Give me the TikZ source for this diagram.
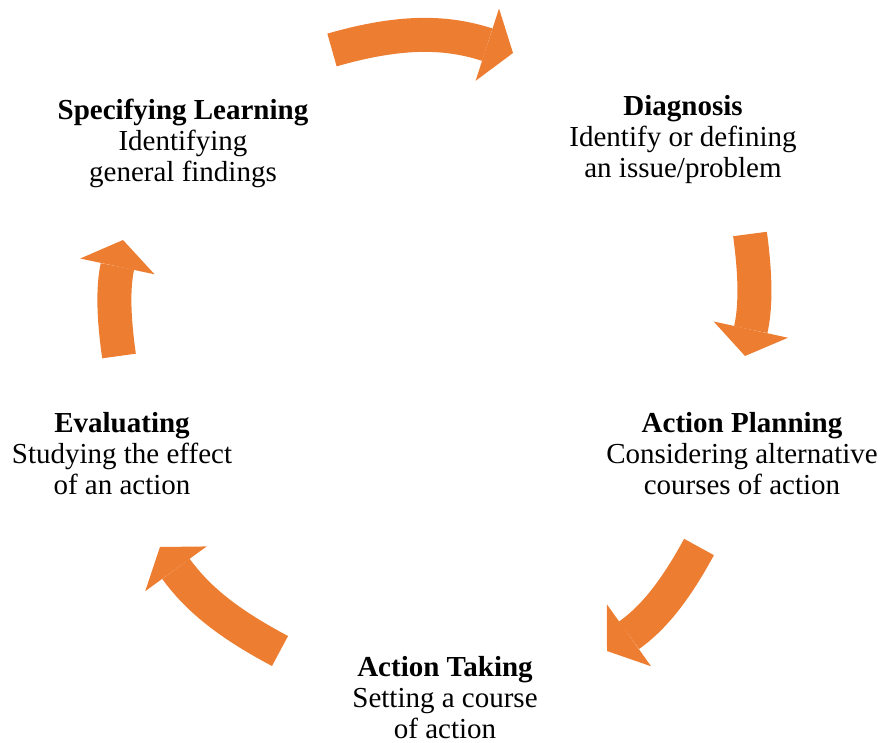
\documentclass[tikz,border=0pt]{standalone}
\usepackage{fontspec}
\setmainfont{Liberation Serif}
\usetikzlibrary{arrows.meta}
\definecolor{cycleorange}{RGB}{237,125,49}

\begin{document}
\begin{tikzpicture}[
		x=1pt, y=-1pt,
		every node/.style={align=center, inner sep=0pt, font=\fontsize{29}{31}\selectfont},
		cyclearrow/.style={draw=cycleorange, line width=34pt,
			-{Triangle[width=76pt, length=27pt, line width=0pt]}}
	]
  \useasboundingbox (0,0) rectangle (883,743);
  % the five stages
  \node (diag) at (683,140) {\textbf{Diagnosis}\\Identify or defining\\an issue/problem};
  \node (plan) at (742,454) {\textbf{Action Planning}\\Considering alternative\\courses of action};
  \node (take) at (445,698) {\textbf{Action Taking}\\Setting a course\\of action};
  \node (eval) at (122,454) {\textbf{Evaluating}\\Studying the effect\\of an action};
  \node (spec) at (183,143) {\textbf{Specifying Learning}\\Identifying\\general findings};
  % ends of the arrows
  \coordinate (a_0) at (332,50);
  \coordinate (a_1) at (513,53);
  \coordinate (b_0) at (750,234);
  \coordinate (b_1) at (745,356);
  \coordinate (c_0) at (699,547);
  \coordinate (c_1) at (607,651);
  \coordinate (d_0) at (280,651);
  \coordinate (d_1) at (160,547);
  \coordinate (e_0) at (119,356);
  \coordinate (e_1) at (123,240);
  \draw[cyclearrow] (a_0) to[bend left=17] (a_1);
  \draw[cyclearrow] (b_0) to[bend left=10] (b_1);
  \draw[cyclearrow] (c_0) to[bend left=13] (c_1);
  \draw[cyclearrow] (d_0) to[bend left=13] (d_1);
  \draw[cyclearrow] (e_0) to[bend left=10] (e_1);
\end{tikzpicture}
\end{document}
